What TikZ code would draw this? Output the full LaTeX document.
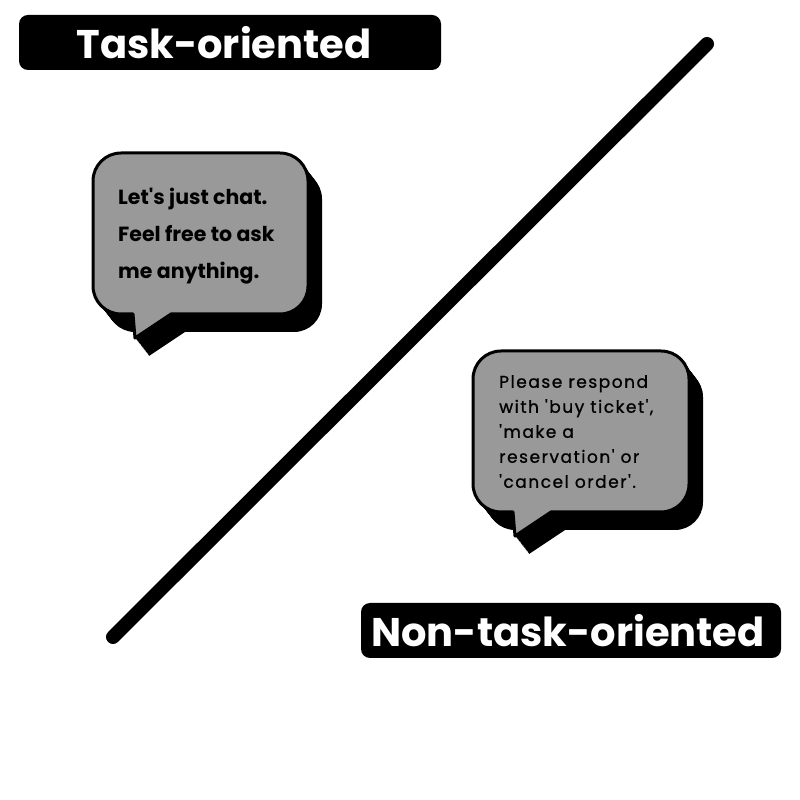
\documentclass[tikz,border=0pt]{standalone}
\usepackage{fontspec}
\setmainfont{Poppins}[Ligatures=TeXOff]
\definecolor{grisbulle}{RGB}{153,153,153}

% bulle : #1 = gauche, #2 = bas, #3 = droite, #4 = haut
\newcommand{\dessinbulle}[4]{%
  \foreach \i in {0,0.05,...,1.01} {
    \fill[shift={({14*\i},{-18*\i})}] ({#1+40},#2) -- ({#1+42},{#2-24}) -- ({#1+78},#2)
      -- ({#3-28},#2) arc[start angle=-90, end angle=0, radius=28pt]
      -- (#3,{#4-28}) arc[start angle=0, end angle=90, radius=28pt]
      -- ({#1+28},#4) arc[start angle=90, end angle=180, radius=28pt]
      -- (#1,{#2+28}) arc[start angle=180, end angle=270, radius=28pt] -- cycle;
  }
  \filldraw[bulle] ({#1+40},#2) -- ({#1+42},{#2-24}) -- ({#1+78},#2)
      -- ({#3-28},#2) arc[start angle=-90, end angle=0, radius=28pt]
      -- (#3,{#4-28}) arc[start angle=0, end angle=90, radius=28pt]
      -- ({#1+28},#4) arc[start angle=90, end angle=180, radius=28pt]
      -- (#1,{#2+28}) arc[start angle=180, end angle=270, radius=28pt] -- cycle;
}

\begin{document}
\begin{tikzpicture}[x=1pt, y=1pt,
    etiquette/.style={fill=black, text=white, rounded corners=9pt, inner sep=0pt,
      minimum height=55pt, font=\fontsize{40}{42}\selectfont\bfseries},
    bulle/.style={fill=grisbulle, draw=black, line width=3pt, line join=round},
    textegras/.style={inner sep=0pt, align=left, font=\fontsize{20.5}{37}\selectfont\bfseries},
    texte/.style={inner sep=0pt, align=left, font=\fontsize{17}{25}\selectfont\addfontfeatures{LetterSpace=9,FakeBold=1}}]
  \useasboundingbox (0,0) rectangle (800,800);
  % trait en diagonale
  \coordinate (bas) at (113,163);
  \coordinate (haut) at (707,756);
  \draw[line width=14pt, line cap=round] (bas) -- (haut);
  % les deux bulles
  \dessinbulle{93}{486}{308}{647}
  \dessinbulle{473}{288}{689}{449}
  \node[textegras, anchor=north west] (chat) at (118,612) {Let's just chat.\\Feel free to ask\\me anything.};
  \node[texte, anchor=north west] (reponse) at (499,425) {Please respond\\with 'buy ticket',\\'make a\\reservation' or\\'cancel order'.};
  % etiquettes
  \node[etiquette, minimum width=422pt] (tache) at (230,757.5) {};
  \node[text=white, font=\fontsize{40}{42}\selectfont\bfseries, inner sep=0pt] (tachetexte) at (224,757.5) {Task-oriented};
  \node[etiquette, minimum width=420pt] (nontache) at (571,169.5) {};
  \node[text=white, font=\fontsize{40}{42}\selectfont\bfseries, inner sep=0pt] (nontachetexte) at (568,169.5) {Non-task-oriented};
\end{tikzpicture}
\end{document}
